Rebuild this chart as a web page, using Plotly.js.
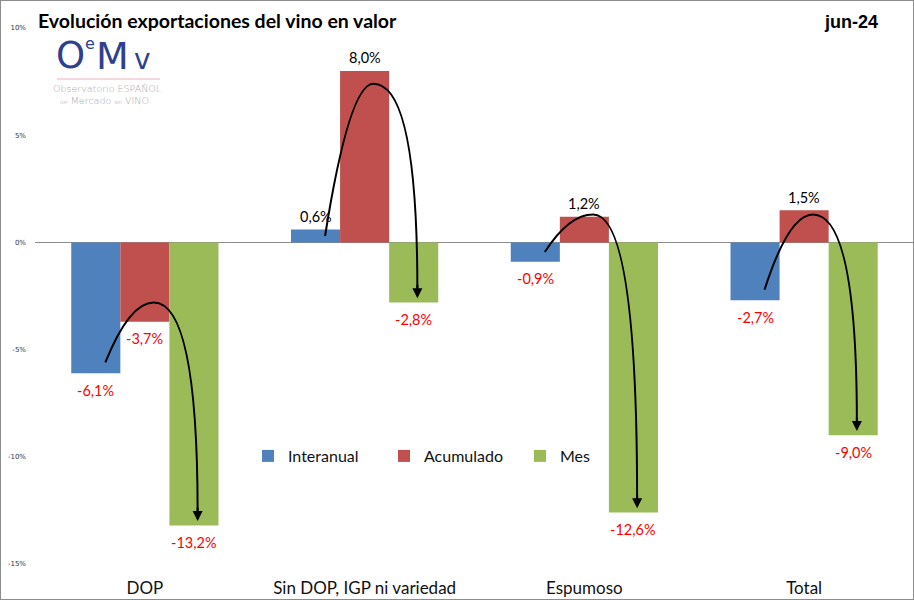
<!DOCTYPE html>
<html>
<head>
<meta charset="utf-8">
<script src="https://cdn.plot.ly/plotly-3.0.1.min.js"></script>
<style>
  html, body { margin: 0; padding: 0; background: #fff; }
  #wrap { position: relative; width: 914px; height: 600px; }
  #chart { position: absolute; left: 0; top: 0; width: 914px; height: 600px; }
  #frame { position: absolute; left: 0; top: 0; width: 914px; height: 600px; box-sizing: border-box; border: 1px solid #8c8c8c; pointer-events: none; }
</style>
</head>
<body>
<div id="wrap"><div id="chart"></div><div id="frame"></div></div>
<script>
// ---- Data ----
const categorias = ['DOP', 'Sin DOP, IGP ni variedad', 'Espumoso', 'Total'];
const interanual = [-6.1, 0.6, -0.9, -2.7];
const acumulado  = [-3.7, 8.0, 1.2, 1.5];
const mes        = [-13.2, -2.8, -12.6, -9.0];
const flechaPico = [-2.8, 7.4, 1.3, 1.3];   // top of the decorative curved arrows
const yTicks     = [-15, -10, -5, 0, 5, 10];
const yTickText  = ['-15%', '-10%', '-5%', '0%', '5%', '10%'];
const seriesNames = ['Interanual', 'Acumulado', 'Mes'];

// ---- Styling ----
const colores = ['#4f81bd', '#c0504d', '#9bbb59'];
const W = 914, H = 600;
const M = { l: 35, r: 0, t: 28, b: 36 };
const PW = W - M.l - M.r, PH = H - M.t - M.b;
const px = x => (x - M.l) / PW;
const py = y => (H - M.b - y) / PH;
const BARGAP = 0.33;
const bw = (1 - BARGAP) / 3;
const offs = [-bw, 0, bw];
const fmt = v => v.toFixed(1).replace('.', ',') + '%';
const xIdx = categorias.map((c, i) => i);
const series = [interanual, acumulado, mes];

const traces = series.map((vals, k) => ({
  type: 'bar',
  name: seriesNames[k],
  x: xIdx,
  y: vals,
  marker: { color: colores[k] },
  hoverinfo: 'skip'
}));

const annotations = [];
// data labels
series.forEach((vals, k) => {
  vals.forEach((v, i) => {
    annotations.push({
      x: i + offs[k], y: v, xref: 'x', yref: 'y',
      text: fmt(v), showarrow: false,
      yshift: v < 0 ? -17 : 13,
      xanchor: 'center', yanchor: 'middle',
      font: { family: 'Lato, sans-serif', size: 14.5, color: v < 0 ? '#ff0000' : '#000000' }
    });
  });
});

// curved arrows (decoration) built from the data
const shapes = [];
categorias.forEach((c, i) => {
  const x0 = i - 0.18, y0 = Math.min(interanual[i] + 0.5, interanual[i] * 0.5);
  const xp = i + 0.04, yp = flechaPico[i];
  const x1 = i + 0.24, y1 = mes[i] + 0.6;
  const path = `M ${x0},${y0} Q ${(x0 + xp) / 2},${yp} ${xp},${yp} Q ${x1},${yp} ${x1},${y1}`;
  shapes.push({ type: 'path', xref: 'x', yref: 'y', path: path, line: { color: '#000', width: 2 } });
  annotations.push({
    x: x1, y: mes[i] + 0.2, xref: 'x', yref: 'y',
    ax: x1, ay: mes[i] + 0.9, axref: 'x', ayref: 'y',
    text: '', showarrow: true, arrowhead: 2, arrowsize: 1, arrowwidth: 2, arrowcolor: '#000'
  });
});

// month tag
annotations.push({
  xref: 'paper', yref: 'paper', x: px(851), y: py(22), xanchor: 'center', yanchor: 'middle',
  text: '<b>jun-24</b>', showarrow: false,
  font: { family: 'Liberation Sans, Arial, sans-serif', size: 18, color: '#000' }
});

// logo (text approximation)
const logoBlue = '#2f3f8f';
const logoFont = (size, color, weight) => ({ family: 'DejaVu Sans, sans-serif', size: size, color: color, weight: weight || 400 });
const logoAnn = (x, y, text, font) => ({ xref: 'paper', yref: 'paper', x: px(x), y: py(y), xanchor: 'center', yanchor: 'middle',
  showarrow: false, borderpad: 0, text: text, font: font });
annotations.push(
  logoAnn(70, 55, 'O', logoFont(37, logoBlue)),
  logoAnn(90, 43, 'e', logoFont(16, logoBlue)),
  logoAnn(112, 56, 'M', logoFont(38, logoBlue)),
  logoAnn(142, 60, 'v', logoFont(28, logoBlue)),
  logoAnn(107, 88, 'Observatorio ESPAÑOL', logoFont(9.5, '#a8a8a8', 200)),
  logoAnn(104, 100, '<span style="font-size:5px">del</span> Mercado <span style="font-size:5px">del</span> VINO', logoFont(9.5, '#a8a8a8', 200))
);
shapes.push({ type: 'line', xref: 'paper', yref: 'paper', x0: px(57), x1: px(160), y0: py(79), y1: py(79),
  line: { color: '#e8b4c0', width: 1 } });

const layout = {
  width: W, height: H,
  margin: M,
  paper_bgcolor: '#fff', plot_bgcolor: '#fff',
  showlegend: true,
  barmode: 'group', bargap: BARGAP, bargroupgap: 0,
  title: {
    text: '<b>Evolución exportaciones del vino en valor</b>',
    x: 38 / W, xanchor: 'left', xref: 'container',
    y: 1 - 21 / H, yanchor: 'middle', yref: 'container',
    font: { family: 'Lato, sans-serif', size: 19.5, color: '#000' }
  },
  xaxis: {
    range: [-0.5, 3.5], tickmode: 'array', tickvals: xIdx, ticktext: categorias,
    showgrid: false, zeroline: false, showline: false, ticks: '', ticklabelstandoff: 12,
    tickfont: { family: 'Lato, sans-serif', size: 17, color: '#111' },
    fixedrange: true
  },
  yaxis: {
    range: [-15, 10], tickmode: 'array', tickvals: yTicks, ticktext: yTickText,
    showgrid: false, zeroline: true, zerolinecolor: '#8c8c8c', zerolinewidth: 1,
    showline: false, ticks: '', ticklabelstandoff: 8,
    tickfont: { family: 'DejaVu Sans, sans-serif', size: 7, color: '#333' },
    fixedrange: true
  },
  legend: {
    orientation: 'h', x: px(248), xanchor: 'left', y: py(456), yanchor: 'middle',
    font: { family: 'Lato, sans-serif', size: 16, color: '#111' },
    entrywidth: 91, entrywidthmode: 'pixels', bgcolor: 'rgba(0,0,0,0)'
  },
  annotations: annotations,
  shapes: shapes
};

Plotly.newPlot('chart', traces, layout, { displayModeBar: false, staticPlot: true });
</script>
</body>
</html>
